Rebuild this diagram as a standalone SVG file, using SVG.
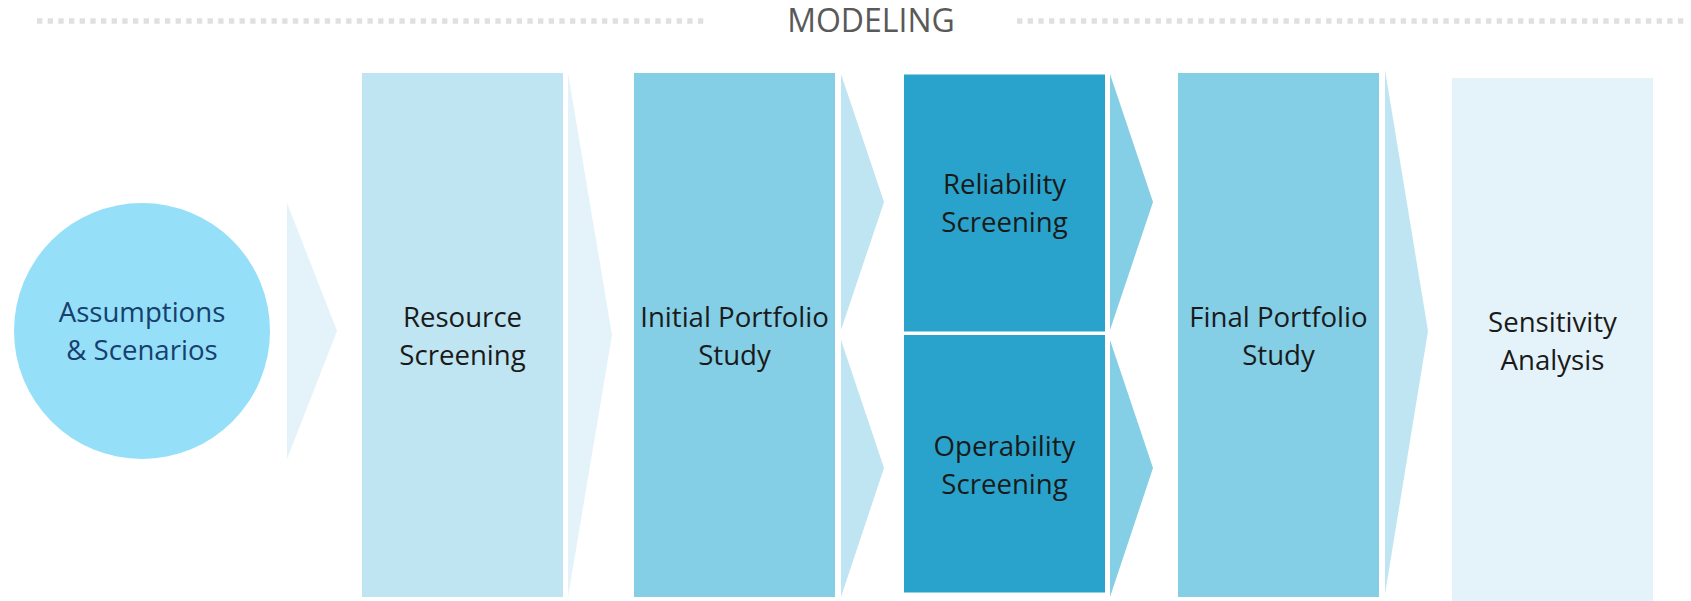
<svg xmlns="http://www.w3.org/2000/svg" width="1691" height="601" viewBox="0 0 1691 601">
  <style>
    .lbl { font-family: "Open Sans", "Noto Sans", "Liberation Sans", sans-serif; font-size: 27.6px; fill: #1a1a1a; text-anchor: middle; }
    .lbl-in { fill: #17406d; }
    .title { font-family: "Open Sans", "Noto Sans", "Liberation Sans", sans-serif; font-size: 32px; fill: #595959; text-anchor: middle; }
    .rule { stroke: #e0e0e0; stroke-width: 5.4; stroke-dasharray: 5.33 5.33; fill: none; }
    .c-pale { fill: #e4f3f9; }
    .c-light { fill: #bfe5f2; }
    .c-mid { fill: #84cee6; }
    .c-deep { fill: #29a3cb; }
  </style>

  <!-- Section header -->
  <g id="header">
    <line class="rule" x1="37" y1="21" x2="704" y2="21"/>
    <line class="rule" x1="1017" y1="21" x2="1686" y2="21"/>
    <text class="title" x="871" y="32">MODELING</text>
  </g>

  <!-- Chevron connectors between stages -->
  <g id="connectors">
    <polygon class="c-pale" points="287,203 337,331 287,459"/>
    <polygon class="c-pale" points="568,73 612,335 568,597"/>
    <polygon class="c-light" points="841,74 884,202 841,330"/>
    <polygon class="c-light" points="841,340 884,468 841,597"/>
    <polygon class="c-mid" points="1110,74 1153,202 1110,330"/>
    <polygon class="c-mid" points="1110,340 1153,468 1110,597"/>
    <polygon class="c-light" points="1385,70 1428,331 1385,594"/>
  </g>

  <g id="assumptions">
    <circle cx="142" cy="331" r="128" fill="#95dff8"/>
    <text class="lbl lbl-in" x="142" y="322">Assumptions</text>
    <text class="lbl lbl-in" x="142" y="360">&amp; Scenarios</text>
  </g>

  <g id="resource-screening">
    <rect class="c-light" x="362" y="73" width="201" height="524"/>
    <text class="lbl" x="462.5" y="327">Resource</text>
    <text class="lbl" x="462.5" y="365">Screening</text>
  </g>

  <g id="initial-portfolio">
    <rect class="c-mid" x="634" y="73" width="201" height="524"/>
    <text class="lbl" x="734.5" y="327">Initial Portfolio</text>
    <text class="lbl" x="734.5" y="365">Study</text>
  </g>

  <g id="reliability-screening">
    <rect class="c-deep" x="904" y="74.5" width="201" height="257"/>
    <text class="lbl" x="1004.5" y="194">Reliability</text>
    <text class="lbl" x="1004.5" y="232">Screening</text>
  </g>

  <g id="operability-screening">
    <rect class="c-deep" x="904" y="335" width="201" height="257.5"/>
    <text class="lbl" x="1004.5" y="456">Operability</text>
    <text class="lbl" x="1004.5" y="494">Screening</text>
  </g>

  <g id="final-portfolio">
    <rect class="c-mid" x="1178" y="73" width="201" height="524"/>
    <text class="lbl" x="1278.5" y="327">Final Portfolio</text>
    <text class="lbl" x="1278.5" y="365">Study</text>
  </g>

  <g id="sensitivity-analysis">
    <rect class="c-pale" x="1452" y="78" width="201" height="523"/>
    <text class="lbl" x="1552.5" y="332">Sensitivity</text>
    <text class="lbl" x="1552.5" y="370">Analysis</text>
  </g>
</svg>
